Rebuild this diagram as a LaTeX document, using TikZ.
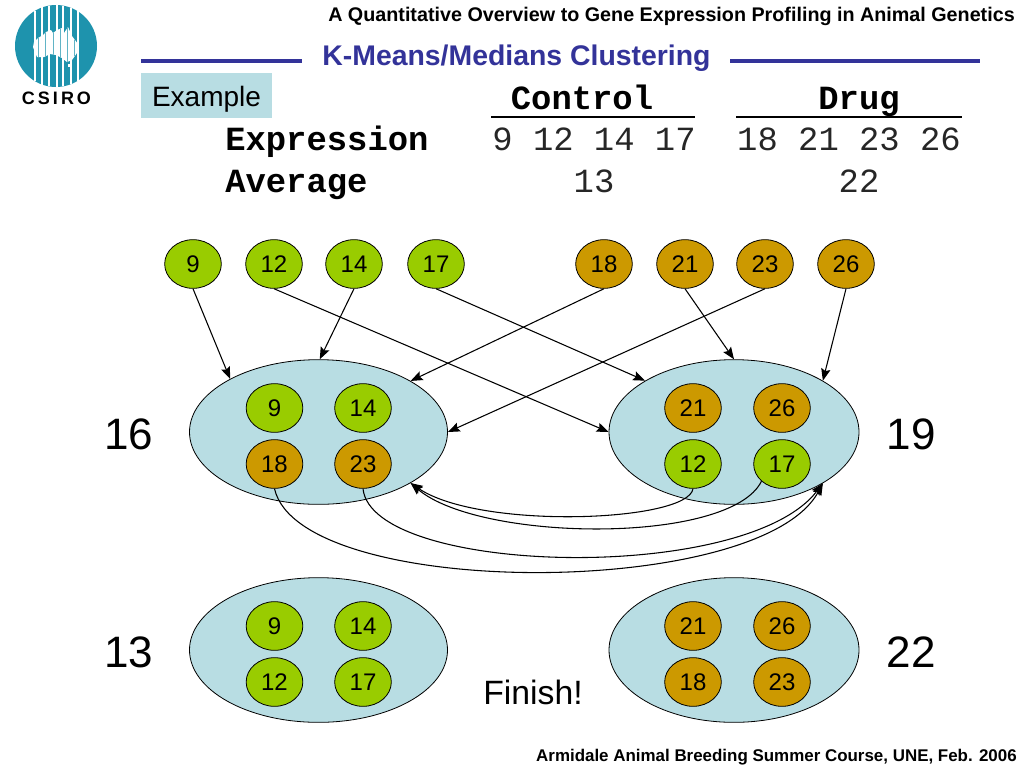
\documentclass[tikz,border=0pt]{standalone}
\usepackage{fontspec}
\setmainfont{Liberation Sans}
\newfontfamily\monof{Liberation Mono}
\usetikzlibrary{shapes.geometric,arrows.meta}
\definecolor{leaf}{HTML}{99CC00}
\definecolor{ochre}{HTML}{CC9900}
\definecolor{pale}{HTML}{B8DDE3}
\definecolor{navy}{HTML}{333399}
\definecolor{teal}{HTML}{1E93AD}
\tikzset{
 x=0.75pt,y=-0.75pt,
 big/.style={ellipse,draw=black,fill=pale,line width=0.6pt,inner sep=0pt,minimum width=193.5pt,minimum height=108.5pt},
 bigr/.style={big,minimum width=187.5pt},
 gn/.style={ellipse,draw=black,fill=leaf,line width=0.6pt,inner sep=0pt,minimum width=42.5pt,minimum height=36.5pt,font=\fontsize{18}{20}\selectfont},
 og/.style={gn,fill=ochre},
 link/.style={-{Stealth[length=9pt,width=7pt,inset=1.5pt]},line width=0.8pt},
 rulel/.style={line width=3pt,navy},
 ul/.style={line width=2.2pt,black},
 mono/.style={font=\fontsize{25.4}{28}\selectfont\monof,text=black!85,inner sep=0pt},
 monob/.style={font=\fontsize{25.4}{28}\selectfont\monof\bfseries,inner sep=0pt},
 lab/.style={font=\fontsize{33}{36}\selectfont,inner sep=0pt}
}
\begin{document}
\begin{tikzpicture}
\useasboundingbox (0,0) rectangle (1024,768);
% logo
\fill[teal] (56,46) circle[radius=41*0.75pt];
\def\ausblob{(33,47)--(34,42)--(38,38)--(43,35)--(46,32)--(51,30)--(53,33)--(57,30)--(62,28)--(64,33)--(68,27)--(72,36)--(78,44)--(77,53)--(72,60)--(67,62)--(62,58)--(56,55)--(50,54)--(44,57)--(37,57)--cycle}
\fill[white] \ausblob;
\fill[white] (68,64) rectangle (71,67);
\foreach \sx in {35,42,49,57,63,71,78}{
 \pgfmathsetmacro\hh{sqrt(41*41-(\sx-56)*(\sx-56))}
 \draw[white,line width=0.8pt] (\sx,46-\hh) -- (\sx,46+\hh);}
\begin{scope}
\clip \ausblob;
\foreach \sx in {38.5,45.5,53,60,67,74.5}
 \draw[teal!70,line width=0.5pt] (\sx,25) -- (\sx,65);
\end{scope}
\node[font=\fontsize{13.5}{16}\selectfont\bfseries,inner sep=0pt] (csiro) at (56.5,98) {C\,S\,I\,R\,O};
% header
\node[font=\fontsize{14.8}{16}\selectfont\bfseries,anchor=east,inner sep=0pt] (head) at (1015,16) {A Quantitative Overview to Gene Expression Profiling in Animal Genetics};
\node[font=\fontsize{21.3}{24}\selectfont\bfseries,text=navy,inner sep=0pt] (title) at (516.5,58.5) {K-Means/Medians Clustering};
\coordinate (r1a) at (141,61); \coordinate (r1b) at (302,61);
\coordinate (r2a) at (730,61); \coordinate (r2b) at (980,61);
\draw[rulel] (r1a)--(r1b); \draw[rulel] (r2a)--(r2b);
\node[fill=pale,minimum width=98.25pt,minimum height=33.75pt,inner sep=0pt,text height=21pt,font=\fontsize{21}{24}\selectfont] (ex) at (206.5,95.5) {Example};
% table
\node[monob,anchor=base] (ctrl) at (582,109) {Control};
\node[monob,anchor=base] (drug) at (859,109) {Drug};
\coordinate (u1a) at (491,117); \coordinate (u1b) at (695,117);
\coordinate (u2a) at (736,117); \coordinate (u2b) at (962,117);
\draw[ul] (u1a)--(u1b); \draw[ul] (u2a)--(u2b);
\node[monob,anchor=base west] (rowe) at (225,150) {Expression};
\node[monob,anchor=base west] (rowa) at (225,192) {Average};
\node[mono,anchor=base] (ev1) at (594,150) {9 12 14 17};
\node[mono,anchor=base] (ev2) at (849,150) {18 21 23 26};
\node[mono,anchor=base] (av1) at (594,192) {13};
\node[mono,anchor=base] (av2) at (859,192) {22};
% top row
\foreach \nm/\px/\st in {9/193/gn,12/274/gn,14/354/gn,17/436/gn,18/604/og,21/685/og,23/765/og,26/846/og}
 \node[\st] (t\nm) at (\px,264) {\nm};
% ellipses
\node[big] (L) at (318.5,432) {};
\node[bigr] (R) at (734,432) {};
\node[big] (BL) at (318.5,650) {};
\node[bigr] (BR) at (734,650) {};
\foreach \nm/\px/\py/\st in {9/274.5/408/gn,14/363/408/gn,18/274.5/464/og,23/363/464/og}
 \node[\st] (l\nm) at (\px,\py) {\nm};
\foreach \nm/\px/\py/\st in {21/693/408/og,26/782/408/og,12/693/464/gn,17/782/464/gn}
 \node[\st] (r\nm) at (\px,\py) {\nm};
\foreach \nm/\px/\py/\st in {9/274.5/626/gn,14/363/626/gn,12/274.5/682/gn,17/363/682/gn}
 \node[\st] (bl\nm) at (\px,\py) {\nm};
\foreach \nm/\px/\py/\st in {21/693/626/og,26/782/626/og,18/693/682/og,23/782/682/og}
 \node[\st] (br\nm) at (\px,\py) {\nm};
% labels
\node[lab] (s16) at (129,434) {16};
\node[lab] (s19) at (911,434) {19};
\node[lab] (s13) at (129,652) {13};
\node[lab] (s22) at (911,652) {22};
\node[font=\fontsize{25.3}{28}\selectfont,inner sep=0pt] (fin) at (533,692) {Finish!};
\node[font=\fontsize{12.7}{14}\selectfont\bfseries,anchor=east,inner sep=0pt] (foot) at (1017,757) {Armidale Animal Breeding Summer Course, UNE, Feb. 2006};
% straight links
\draw[link] (t9.south) -- (L.149);
\draw[link] (t14.south) -- (L.89);
\draw[link] (t18.south) -- (L.29.3);
\draw[link] (t23.south) -- (L.0);
\draw[link] (t12.south) -- (R.180);
\draw[link] (t17.south) -- (R.150);
\draw[link] (t21.south) -- (R.90);
\draw[link] (t26.south) -- (R.30.6);
% curved links
\draw[link] (l18.south) .. controls (300,600) and (760,600) .. (R.-30.3);
\draw[link] (l23.south) .. controls (372,575) and (745,585) .. (R.-30.3);
\draw[link] (r12.south) .. controls (688,522) and (480,530) .. (L.-29.6);
\draw[link] (r17.220) .. controls (730,545) and (480,542) .. (L.-29.6);
\end{tikzpicture}
\end{document}
